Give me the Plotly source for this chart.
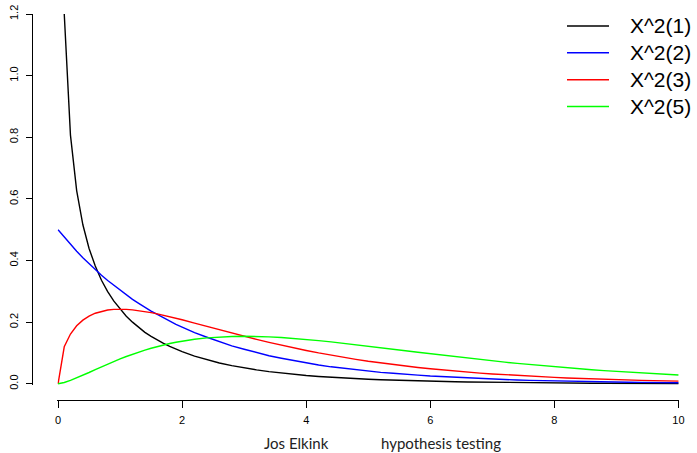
import plotly.graph_objects as go

# Evaluation grid: fine steps near zero, coarser further out
x_vals = [0.0, 0.1, 0.2, 0.3, 0.4, 0.5, 0.6, 0.7, 0.8, 0.9, 1.0,
          1.1, 1.2, 1.3, 1.4, 1.5, 1.6, 1.7, 1.8, 1.9, 2.0,
          2.2, 2.4, 2.6, 2.8, 3.0, 3.2, 3.4, 3.6, 3.8, 4.0,
          4.2, 4.4, 4.6, 4.8, 5.0, 5.2, 5.4, 5.6, 5.8, 6.0,
          6.2, 6.4, 6.6, 6.8, 7.0, 7.2, 7.4, 7.6, 7.8, 8.0,
          8.2, 8.4, 8.6, 8.8, 9.0, 9.2, 9.4, 9.6, 9.8, 10.0]

# Chi-squared densities, df = 1, 2, 3, 5
chisq_df1 = [None, 1.200, 0.807, 0.627, 0.516, 0.439, 0.382, 0.336, 0.299, 0.268, 0.242,
             0.219, 0.200, 0.183, 0.167, 0.154, 0.142, 0.131, 0.121, 0.112, 0.104,
             0.0895, 0.0776, 0.0674, 0.0588, 0.0514, 0.0450, 0.0395, 0.0348, 0.0306, 0.0270,
             0.0238, 0.0211, 0.0186, 0.0165, 0.0146, 0.0130, 0.0115, 0.0103, 0.0091, 0.0081,
             0.0072, 0.0064, 0.0057, 0.0051, 0.0046, 0.0041, 0.0036, 0.0032, 0.0029, 0.0026,
             0.0023, 0.0021, 0.0018, 0.0017, 0.0015, 0.0013, 0.0012, 0.0011, 0.0010, 0.0009]

chisq_df2 = [0.500, 0.476, 0.452, 0.430, 0.409, 0.389, 0.370, 0.352, 0.335, 0.319, 0.303,
             0.288, 0.274, 0.261, 0.248, 0.236, 0.225, 0.214, 0.203, 0.193, 0.184,
             0.166, 0.151, 0.136, 0.123, 0.112, 0.101, 0.091, 0.083, 0.075, 0.068,
             0.061, 0.055, 0.050, 0.045, 0.041, 0.037, 0.034, 0.030, 0.028, 0.025,
             0.023, 0.020, 0.018, 0.017, 0.015, 0.014, 0.012, 0.011, 0.010, 0.009,
             0.008, 0.0075, 0.0068, 0.0061, 0.0056, 0.0050, 0.0045, 0.0041, 0.0037, 0.0034]

chisq_df3 = [0.000, 0.1200, 0.1614, 0.1881, 0.2066, 0.2197, 0.2289, 0.2352, 0.2392, 0.2413, 0.2420,
             0.2414, 0.2398, 0.2375, 0.2344, 0.2308, 0.2267, 0.2223, 0.2176, 0.2127, 0.2076,
             0.1970, 0.1861, 0.1753, 0.1646, 0.1542, 0.1441, 0.1344, 0.1251, 0.1163, 0.1080,
             0.1001, 0.0927, 0.0858, 0.0793, 0.0732, 0.0676, 0.0623, 0.0574, 0.0529, 0.0487,
             0.0447, 0.0411, 0.0378, 0.0347, 0.0319, 0.0292, 0.0268, 0.0246, 0.0226, 0.0207,
             0.0189, 0.0173, 0.0159, 0.0145, 0.0133, 0.0122, 0.0111, 0.0102, 0.0093, 0.0085]

chisq_df5 = [0.000, 0.0040, 0.0108, 0.0188, 0.0275, 0.0366, 0.0458, 0.0549, 0.0638, 0.0724, 0.0807,
             0.0885, 0.0959, 0.1029, 0.1094, 0.1154, 0.1209, 0.1260, 0.1306, 0.1347, 0.1384,
             0.1445, 0.1489, 0.1519, 0.1536, 0.1542, 0.1537, 0.1523, 0.1501, 0.1473, 0.1440,
             0.1401, 0.1360, 0.1316, 0.1269, 0.1220, 0.1172, 0.1121, 0.1071, 0.1023, 0.0974,
             0.0924, 0.0877, 0.0832, 0.0787, 0.0744, 0.0701, 0.0661, 0.0623, 0.0588, 0.0552,
             0.0517, 0.0484, 0.0456, 0.0425, 0.0399, 0.0374, 0.0348, 0.0326, 0.0304, 0.0283]

series_names = ["X^2(1)", "X^2(2)", "X^2(3)", "X^2(5)"]
series_colors = ["#000000", "#0000ff", "#ff0000", "#00ff00"]
series_values = [chisq_df1, chisq_df2, chisq_df3, chisq_df5]

x_ticks = [0, 2, 4, 6, 8, 10]
y_ticks = [0.0, 0.2, 0.4, 0.6, 0.8, 1.0, 1.2]

W, H = 697, 453


def px_x(p):
    return p / W


def px_y(p):
    return (H - p) / H


fig = go.Figure()
for name, color, vals in zip(series_names, series_colors, series_values):
    fig.add_trace(go.Scatter(x=x_vals, y=vals, mode="lines", name=name,
                             line=dict(color=color, width=1.4),
                             showlegend=False, hoverinfo="skip"))

# Legend drawn R-style: coloured key line then the label
legend_rows = [26, 52.8, 79.7, 106.6]
shapes = []
annotations = []
for name, color, row in zip(series_names, series_colors, legend_rows):
    shapes.append(dict(type="line", xref="paper", yref="paper",
                       x0=px_x(567), x1=px_x(609), y0=px_y(row), y1=px_y(row),
                       line=dict(color=color, width=1.5)))
    annotations.append(dict(text=name, xref="paper", yref="paper",
                            x=px_x(628), y=px_y(row), xanchor="left", yanchor="middle",
                            showarrow=False,
                            font=dict(family="Liberation Sans, Arial", size=21, color="#000000")))

# Footer line
footer_font = dict(family="Lato, sans-serif", size=15, color="#222222")
annotations.append(dict(text="Jos Elkink", xref="paper", yref="paper",
                        x=px_x(296.5), y=px_y(443), xanchor="center", yanchor="middle",
                        showarrow=False, font=footer_font))
annotations.append(dict(text="hypothesis testing", xref="paper", yref="paper",
                        x=px_x(440.5), y=px_y(443), xanchor="center", yanchor="middle",
                        showarrow=False, font=footer_font))

tick_font = dict(family="Liberation Sans, Arial", size=11, color="#000000")

fig.update_layout(
    width=W, height=H,
    margin=dict(l=0, r=0, t=0, b=0),
    paper_bgcolor="white", plot_bgcolor="white",
    showlegend=False,
    shapes=shapes,
    annotations=annotations,
    xaxis=dict(range=[-0.01, 10.01], domain=[px_x(57.5) - 0.0001, px_x(679) + 0.0001],
               anchor="free", position=px_y(400),
               tickmode="array", tickvals=x_ticks, ticktext=[str(t) for t in x_ticks],
               showgrid=False, zeroline=False, showline=True, linecolor="#000000", linewidth=1,
               ticks="outside", ticklen=7, tickwidth=1, tickcolor="#000000",
               tickfont=tick_font, ticklabelstandoff=3, automargin=False),
    yaxis=dict(range=[-0.004, 1.2], domain=[px_y(385), px_y(14)],
               anchor="free", position=px_x(32),
               tickmode="array", tickvals=y_ticks, ticktext=[f"{t:.1f}" for t in y_ticks],
               tickangle=-90,
               showgrid=False, zeroline=False, showline=True, linecolor="#000000", linewidth=1,
               ticks="outside", ticklen=6, tickwidth=1, tickcolor="#000000",
               tickfont=tick_font, ticklabelstandoff=4, automargin=False),
)

fig.write_html("out.html")
